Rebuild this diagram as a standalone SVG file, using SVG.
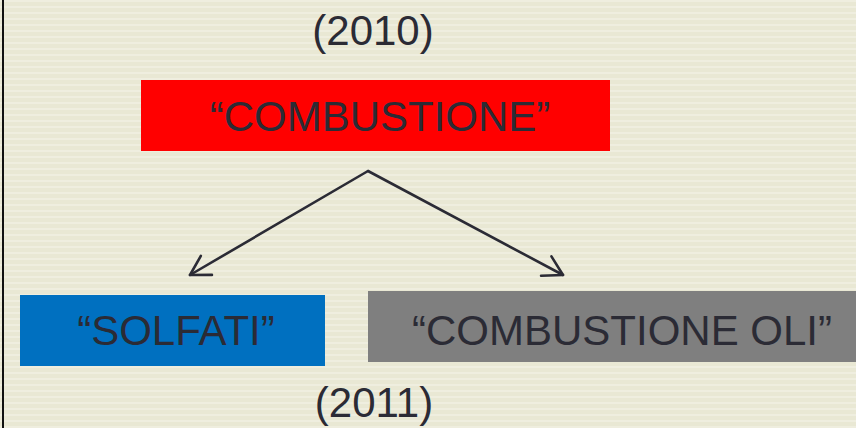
<svg xmlns="http://www.w3.org/2000/svg" width="856" height="428" viewBox="0 0 856 428">
<style>
.t{font-family:"Liberation Sans",Arial,sans-serif;font-size:42px;fill:#2b2b35;text-anchor:middle}
.c{stroke:#2b2b35;stroke-width:2.6;fill:none;stroke-linecap:round;stroke-linejoin:round}
</style>
<defs>
<pattern id="bg" width="8" height="6" patternUnits="userSpaceOnUse">
<rect width="8" height="6" fill="#e9e8d4"/>
<rect y="0" width="8" height="2" fill="#efeedf"/>
</pattern>
<marker id="ah" markerUnits="userSpaceOnUse" markerWidth="30" markerHeight="30" viewBox="-25 -15 30 30" refX="0" refY="0" orient="auto" overflow="visible">
<path d="M-19,-11 L0,0 L-19,11" class="c"/>
</marker>
</defs>
<rect width="856" height="428" fill="url(#bg)"/>
<line x1="3" y1="0" x2="3" y2="428" stroke="#111" stroke-width="2"/>
<g id="label2010"><text class="t" x="373" y="45">(2010)</text></g>
<g id="combustione">
<rect x="141" y="80" width="469" height="71" fill="#ff0000"/>
<text class="t" x="380" y="131">“COMBUSTIONE”</text>
</g>
<g id="solfati">
<rect x="20" y="295" width="305" height="71" fill="#0070c0"/>
<text class="t" x="176" y="345">“SOLFATI”</text>
</g>
<g id="combustione-oli">
<rect x="368" y="291" width="488" height="71" fill="#7f7f7f"/>
<text class="t" x="622" y="345">“COMBUSTIONE OLI”</text>
</g>
<g id="label2011"><text class="t" x="374" y="417">(2011)</text></g>
<g id="connectors">
<path class="c" d="M368,171 L190,275" marker-end="url(#ah)"/>
<path class="c" d="M368,171 L563,275" marker-end="url(#ah)"/>
</g>
</svg>
